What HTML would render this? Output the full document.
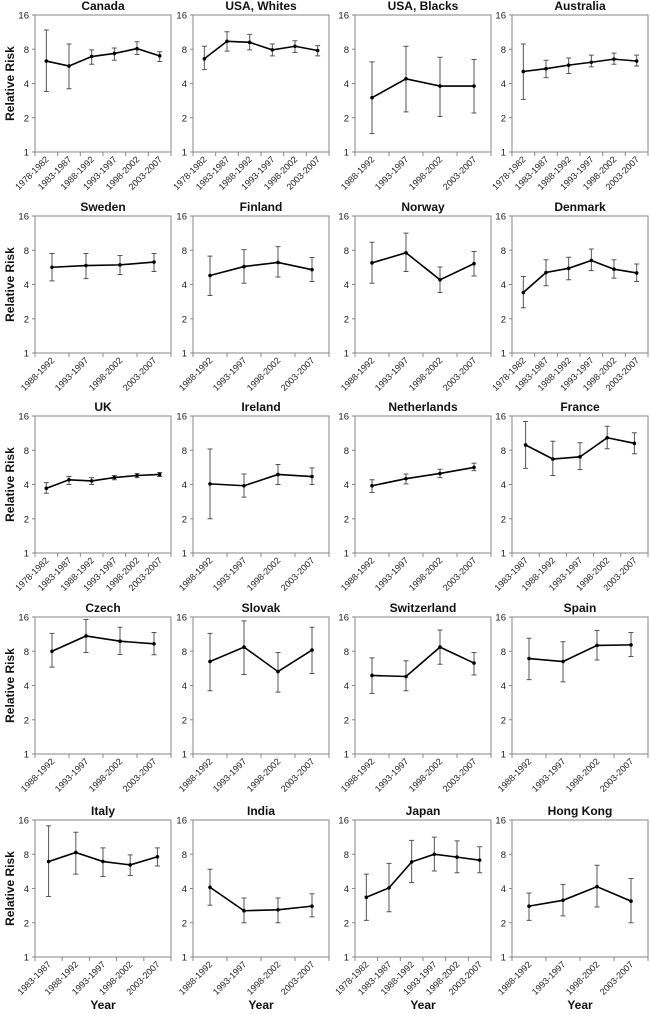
<!DOCTYPE html>
<html><head><meta charset="utf-8"><style>
body{margin:0;background:#fff;}
svg{display:block;font-family:"Liberation Sans",Arial,sans-serif;}
</style></head><body>
<svg id="chart" width="650" height="1014" viewBox="0 0 650 1014"></svg>
<script>
const P6=["1978-1982","1983-1987","1988-1992","1993-1997","1998-2002","2003-2007"];
const P5=["1983-1987","1988-1992","1993-1997","1998-2002","2003-2007"];
const P4=["1988-1992","1993-1997","1998-2002","2003-2007"];
const yTicks=[1,2,4,8,16];

const canadaRR=[6.3,5.7,6.9,7.35,8.1,7.0], canadaLo=[3.4,3.6,5.9,6.4,7.2,6.25], canadaHi=[11.8,8.9,7.9,8.2,9.3,7.6];
const usawRR=[6.6,9.4,9.2,7.9,8.5,7.8], usawLo=[5.3,7.7,7.9,7.0,7.5,7.0], usawHi=[8.5,11.4,10.8,8.9,9.5,8.6];
const usabRR=[3.0,4.4,3.8,3.8], usabLo=[1.45,2.25,2.05,2.2], usabHi=[6.2,8.5,6.8,6.5];
const ausRR=[5.1,5.4,5.8,6.15,6.55,6.3], ausLo=[2.9,4.5,4.9,5.6,5.9,5.7], ausHi=[8.9,6.4,6.7,7.1,7.4,7.1];
const swedenRR=[5.67,5.87,5.95,6.3], swedenLo=[4.3,4.5,4.9,5.2], swedenHi=[7.5,7.5,7.2,7.5];
const finlandRR=[4.8,5.75,6.25,5.4], finlandLo=[3.2,4.1,4.65,4.25], finlandHi=[7.1,8.1,8.6,6.9];
const norwayRR=[6.2,7.6,4.4,6.1], norwayLo=[4.1,5.2,3.4,4.75], norwayHi=[9.4,11.3,5.7,7.8];
const denmarkRR=[3.4,5.1,5.55,6.5,5.45,5.05], denmarkLo=[2.5,3.9,4.4,5.3,4.55,4.25], denmarkHi=[4.7,6.6,6.95,8.2,6.6,6.06];
const ukRR=[3.7,4.4,4.3,4.6,4.8,4.9], ukLo=[3.35,4.0,4.0,4.4,4.6,4.7], ukHi=[4.15,4.7,4.6,4.8,5.0,5.1];
const irelandRR=[4.05,3.9,4.9,4.7], irelandLo=[2.0,3.1,4.0,4.0], irelandHi=[8.2,4.95,6.0,5.6];
const nethRR=[3.9,4.5,5.0,5.65], nethLo=[3.4,4.05,4.6,5.3], nethHi=[4.4,4.95,5.45,6.15];
const franceRR=[8.9,6.7,7.0,10.3,9.2], franceLo=[5.55,4.8,5.4,8.25,7.45], franceHi=[14.3,9.6,9.3,13.0,11.4];
const czechRR=[8.0,10.9,9.8,9.3], czechLo=[5.8,7.8,7.5,7.45], czechHi=[11.5,15.2,13.0,11.7];
const slovakRR=[6.5,8.7,5.3,8.2], slovakLo=[3.6,5.0,3.5,5.1], slovakHi=[11.5,14.8,7.8,13.0];
const swissRR=[4.9,4.8,8.7,6.3], swissLo=[3.4,3.6,6.15,4.95], swissHi=[7.0,6.6,12.3,7.8];
const spainRR=[6.9,6.5,9.0,9.1], spainLo=[4.5,4.3,6.7,7.2], spainHi=[10.4,9.7,12.2,11.7];
const italyRR=[6.9,8.3,6.9,6.45,7.6], italyLo=[3.4,5.35,5.1,5.2,6.3], italyHi=[14.2,12.5,9.1,7.9,9.1];
const indiaRR=[4.1,2.55,2.6,2.8], indiaLo=[2.85,2.0,2.0,2.25], indiaHi=[5.9,3.3,3.3,3.6];
const japanRR=[3.35,4.05,6.85,8.0,7.55,7.1], japanLo=[2.1,2.5,4.5,5.7,5.5,5.5], japanHi=[5.35,6.65,10.6,11.3,10.5,9.3];
const hkRR=[2.8,3.15,4.15,3.1], hkLo=[2.1,2.3,2.75,2.0], hkHi=[3.65,4.35,6.4,4.9];

const panels=[
 ["Canada",P6,canadaRR,canadaLo,canadaHi],["USA, Whites",P6,usawRR,usawLo,usawHi],["USA, Blacks",P4,usabRR,usabLo,usabHi],["Australia",P6,ausRR,ausLo,ausHi],
 ["Sweden",P4,swedenRR,swedenLo,swedenHi],["Finland",P4,finlandRR,finlandLo,finlandHi],["Norway",P4,norwayRR,norwayLo,norwayHi],["Denmark",P6,denmarkRR,denmarkLo,denmarkHi],
 ["UK",P6,ukRR,ukLo,ukHi],["Ireland",P4,irelandRR,irelandLo,irelandHi],["Netherlands",P4,nethRR,nethLo,nethHi],["France",P5,franceRR,franceLo,franceHi],
 ["Czech",P4,czechRR,czechLo,czechHi],["Slovak",P4,slovakRR,slovakLo,slovakHi],["Switzerland",P4,swissRR,swissLo,swissHi],["Spain",P4,spainRR,spainLo,spainHi],
 ["Italy",P5,italyRR,italyLo,italyHi],["India",P4,indiaRR,indiaLo,indiaHi],["Japan",P6,japanRR,japanLo,japanHi],["Hong Kong",P4,hkRR,hkLo,hkHi]
];
const colX=[35,193,355,512], rowY=[15,216,416,617,820], PW=136, PH=137;
const NS="http://www.w3.org/2000/svg", svg=document.getElementById('chart');
function mk(tag,attrs,parent,text){const e=document.createElementNS(NS,tag);for(const k in attrs)e.setAttribute(k,attrs[k]);if(text!==undefined)e.textContent=text;(parent||svg).appendChild(e);return e;}
function slug(s){return s.toLowerCase().replace(/[^a-z0-9]+/g,'-').replace(/-$/,'');}

panels.forEach((p,i)=>{
 const [name,cats,rr,lo,hi]=p, c=i%4, r=Math.floor(i/4), L=colX[c], T=rowY[r], B=T+PH, R=L+PW;
 const s=slug(name);
 const g=mk('g',{});
 
 
 const y=v=>B-Math.log2(v)/4*PH;
 const bw=PW/cats.length, x=j=>L+(j+0.5)*bw;
 const frame=mk('rect',{x:L,y:T,width:PW,height:PH,fill:'#fff',stroke:'#999','stroke-width':1.2},g);
 
 
 const t=mk('text',{x:L+PW/2,y:T-5,'text-anchor':'middle','font-size':12,'font-weight':'bold',fill:'#111'},g,name);
 
 
 yTicks.forEach(v=>{
  mk('line',{x1:L-3,x2:L,y1:y(v),y2:y(v),stroke:'#888'},g);
  const tl=mk('text',{x:L-6,y:y(v)+3.5,'text-anchor':'end','font-size':9.5,fill:'#222'},g,String(v));
  
  
 });
 for(let j=0;j<=cats.length;j++) mk('line',{x1:L+j*bw,x2:L+j*bw,y1:B,y2:B+4,stroke:'#888'},g);
 cats.forEach((cat,j)=>{
  const xl=mk('text',{x:x(j)+3,y:B+8,'text-anchor':'end','font-size':9,fill:'#222',transform:`rotate(-45 ${x(j)+3} ${B+8})`},g,cat);
  
  
  const eb=mk('path',{d:`M${x(j)},${y(hi[j])}V${y(lo[j])}M${x(j)-2.5},${y(hi[j])}h5M${x(j)-2.5},${y(lo[j])}h5`,stroke:'#555','stroke-width':1,fill:'none'},g);
  
  
 });
 const line=mk('polyline',{points:rr.map((v,j)=>x(j)+','+y(v)).join(' '),fill:'none',stroke:'#000','stroke-width':1.6},g);
 
 
 rr.forEach((v,j)=>{
  const pt=mk('circle',{cx:x(j),cy:y(v),r:1.8,fill:'#000'},g);
  
  
 });
 if(c===0){
  const yl=mk('text',{x:0,y:0,'text-anchor':'middle','font-size':12,'font-weight':'bold',fill:'#111',transform:`translate(14 ${T+PH/2}) rotate(-90)`},g,'Relative Risk');
  
  
 }
 if(r===4){
  const xt=mk('text',{x:L+PW/2,y:1009,'text-anchor':'middle','font-size':12,'font-weight':'bold',fill:'#111'},g,'Year');
  
  
 }
});
</script>
</body></html>
